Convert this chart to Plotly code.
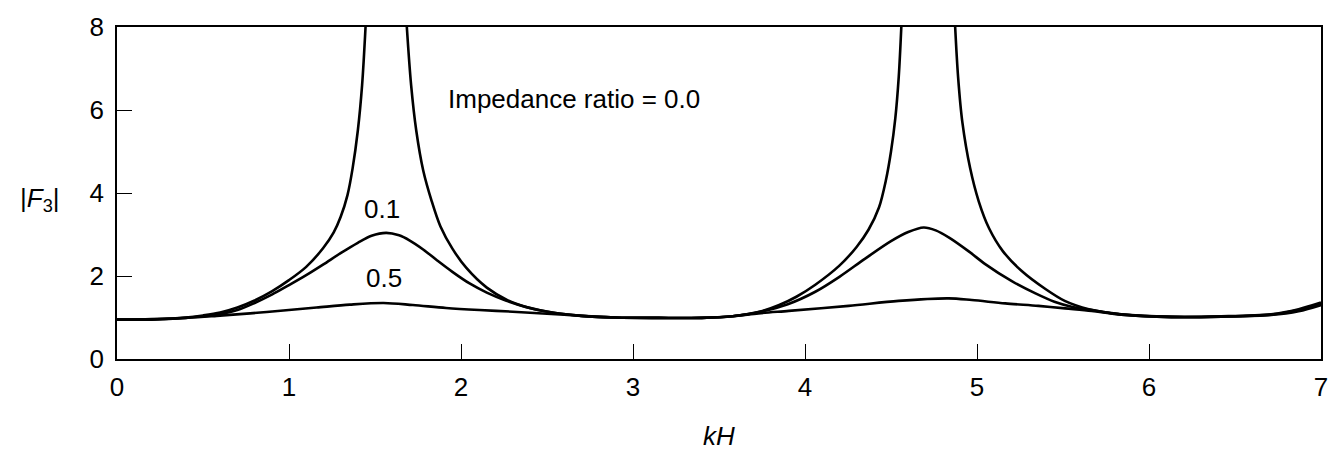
import plotly.graph_objects as go

# ---- data ----
# impedance ratio 0.0 (three branches, separated by None where the curve leaves the frame)
kH_r00 = [0.0, 0.2, 0.4, 0.5, 0.6, 0.7, 0.8, 0.9, 1.0, 1.1, 1.2, 1.26, 1.3, 1.34, 1.37, 1.4, 1.425, 1.445,
          None,
          1.685, 1.71, 1.74, 1.78, 1.83, 1.88, 1.95, 2.03, 2.15, 2.27, 2.4, 2.55, 2.7, 2.9,
          3.15, 3.4, 3.58, 3.73, 3.85, 3.95, 4.06, 4.2, 4.3, 4.37, 4.43, 4.47, 4.5, 4.525, 4.545, 4.56,
          None,
          4.873, 4.89, 4.915, 4.96, 5.01, 5.07, 5.15, 5.26, 5.4, 5.51, 5.65, 5.84, 6.13, 6.42,
          6.71, 6.87, 7.0]
F_r00 = [0.95, 0.96, 1.0, 1.05, 1.12, 1.24, 1.41, 1.63, 1.9, 2.22, 2.68, 3.05, 3.42, 3.95, 4.6, 5.5, 6.6, 8.0,
         None,
         8.0, 6.6, 5.5, 4.55, 3.8, 3.2, 2.66, 2.2, 1.72, 1.42, 1.23, 1.11, 1.04, 1.0,
         0.99, 0.99, 1.03, 1.13, 1.3, 1.5, 1.79, 2.25, 2.7, 3.12, 3.65, 4.3, 5.0, 5.8, 6.8, 8.0,
         None,
         8.0, 6.8, 5.7, 4.6, 3.8, 3.15, 2.6, 2.12, 1.68, 1.4, 1.2, 1.08, 1.02, 1.03,
         1.08, 1.2, 1.36]

# impedance ratio 0.1
kH_r01 = [0.0, 0.2, 0.4, 0.5, 0.6, 0.7, 0.8, 0.9, 1.0, 1.1, 1.2, 1.3, 1.4, 1.48, 1.565, 1.64, 1.7,
          1.78, 1.86, 1.95, 2.05, 2.15, 2.26, 2.38, 2.53, 2.7, 2.9, 3.15, 3.4, 3.58, 3.73,
          3.9, 4.06, 4.2, 4.35, 4.5, 4.6, 4.69, 4.76, 4.84, 4.95, 5.05, 5.2, 5.34,
          5.45, 5.55, 5.65, 5.84, 6.13, 6.42, 6.71, 6.87, 7.0]
F_r01 = [0.95, 0.95, 0.99, 1.03, 1.08, 1.18, 1.35, 1.55, 1.78, 2.02, 2.28, 2.55, 2.8, 2.97, 3.04, 2.98, 2.86,
         2.64, 2.38, 2.1, 1.82, 1.6, 1.41, 1.25, 1.12, 1.04, 1.0, 0.99, 0.99, 1.03, 1.13,
         1.32, 1.62, 1.98, 2.42, 2.84, 3.06, 3.17, 3.1, 2.92, 2.6, 2.28, 1.88, 1.58,
         1.38, 1.26, 1.19, 1.07, 1.01, 1.02, 1.07, 1.18, 1.33]

# impedance ratio 0.5
kH_r05 = [0.0, 0.3, 0.58, 0.774, 0.967, 1.16, 1.354, 1.55, 1.72, 1.913, 2.107, 2.3, 2.5, 2.7,
          2.9, 3.15, 3.4, 3.58, 3.73, 3.906, 4.254, 4.544, 4.834, 4.97, 5.164, 5.357, 5.512,
          5.667, 5.84, 6.13, 6.42, 6.71, 6.87, 7.0]
F_r05 = [0.95, 0.97, 1.04, 1.1, 1.17, 1.24, 1.31, 1.35, 1.3, 1.23, 1.18, 1.14, 1.09, 1.04,
         1.0, 0.99, 0.99, 1.03, 1.1, 1.16, 1.28, 1.4, 1.46, 1.42, 1.34, 1.28, 1.22,
         1.16, 1.07, 1.01, 1.02, 1.06, 1.15, 1.3]

x_ticks = [0, 1, 2, 3, 4, 5, 6, 7]
y_ticks = [0, 2, 4, 6, 8]

FONT = "Liberation Sans, Arial, Helvetica, sans-serif"
FS = 26

W, H = 1340, 453
ML, MR, MT, MB = 117, 17, 21, 94
plot_w = W - ML - MR
plot_h = H - MT - MB

fig = go.Figure()
for xs, ys in [(kH_r00, F_r00), (kH_r01, F_r01), (kH_r05, F_r05)]:
    fig.add_trace(go.Scatter(x=xs, y=ys, mode="lines",
                             line=dict(color="black", width=2.6, shape="spline", smoothing=0.9),
                             connectgaps=False, showlegend=False, hoverinfo="skip"))

fig.add_annotation(x=1.915, y=6.27, xref="x", yref="y", text="Impedance ratio = 0.0",
                   showarrow=False, xanchor="left", yanchor="middle",
                   font=dict(family=FONT, size=FS, color="black"))
fig.add_annotation(x=1.54, y=3.62, xref="x", yref="y", text="0.1",
                   showarrow=False, xanchor="center", yanchor="middle",
                   font=dict(family=FONT, size=FS, color="black"))
fig.add_annotation(x=1.55, y=1.94, xref="x", yref="y", text="0.5",
                   showarrow=False, xanchor="center", yanchor="middle",
                   font=dict(family=FONT, size=FS, color="black"))
# y-axis label, horizontal, placed by pixel position converted to paper fractions
fig.add_annotation(x=(62 - ML) / plot_w, y=(H - MB - 197) / plot_h, xref="paper", yref="paper",
                   text="|<i>F</i><sub>3</sub>|",
                   showarrow=False, xanchor="right", yanchor="middle",
                   font=dict(family=FONT, size=FS, color="black"))
fig.add_annotation(x=(720 - ML) / plot_w, y=0, xref="paper", yref="paper", text="<i>kH</i>",
                   showarrow=False, xanchor="center", yanchor="top", yshift=-60,
                   font=dict(family=FONT, size=FS, color="black"))

fig.update_layout(
    width=W, height=H,
    margin=dict(l=ML, r=MR, t=MT, b=MB),
    paper_bgcolor="white", plot_bgcolor="white",
    font=dict(family=FONT, size=FS, color="black"),
)
fig.update_xaxes(range=[0, 7], tickvals=x_ticks, ticktext=[str(v) for v in x_ticks],
                 ticks="inside", ticklen=15, tickwidth=1, tickcolor="black",
                 showline=True, linecolor="black", linewidth=1.5, mirror=True,
                 showgrid=False, zeroline=False, tickfont=dict(size=FS), ticklabelstandoff=4)
fig.update_yaxes(range=[0, 8], tickvals=y_ticks, ticktext=[str(v) for v in y_ticks],
                 ticks="inside", ticklen=15, tickwidth=1, tickcolor="black",
                 showline=True, linecolor="black", linewidth=1.5, mirror=True,
                 showgrid=False, zeroline=False, tickfont=dict(size=FS), ticklabelstandoff=6)

fig.write_html("out.html")
